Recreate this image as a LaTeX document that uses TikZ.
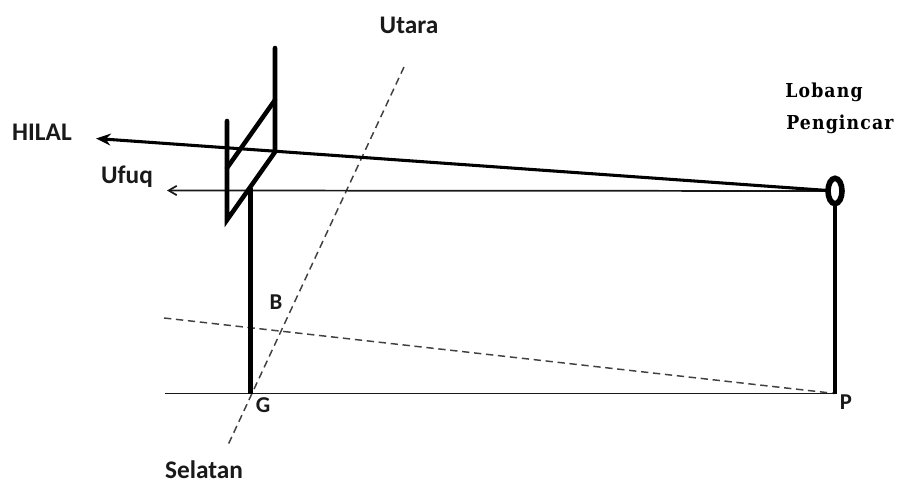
\documentclass[tikz,border=0pt]{standalone}
\usepackage{fontspec}
\setmainfont{Carlito}
\newfontfamily\serifb[LetterSpace=6]{DejaVu Serif Condensed}
\usetikzlibrary{arrows.meta,shapes.geometric}
\tikzset{
  thickline/.style={line width=3.4pt,line cap=round},
  midline/.style={line width=2.3pt},
  thinline/.style={line width=1.3pt,draw=black!90},
  dashline/.style={line width=1.1pt,draw=black!75,dash pattern=on 5.5pt off 3.5pt},
  lab/.style={inner sep=0pt,font=\bfseries\fontsize{19pt}{21pt}\selectfont,text=black!90},
  smalllab/.style={inner sep=0pt,font=\bfseries\fontsize{17pt}{19pt}\selectfont,text=black!90},
  serlab/.style={inner sep=0pt,anchor=west,font=\serifb\bfseries\fontsize{14.4pt}{16pt}\selectfont}
}
\begin{document}
\begin{tikzpicture}[x=0.75pt,y=-0.75pt]
\useasboundingbox (0,0) rectangle (898,484);
% points
\coordinate (topR) at (275,48);
\coordinate (midR) at (275,100);
\coordinate (lowR) at (275,152);
\coordinate (topL) at (227,121);
\coordinate (midL) at (227,168);
\coordinate (lowL) at (227,220);
\coordinate (gnoTop) at (250.5,188);
\coordinate (G) at (250.5,393.5);
\coordinate (P) at (835,393.5);
\coordinate (hole) at (835,191);
\coordinate (baseW) at (165,393.5);
\coordinate (hilalTip) at (96,138.5);
\coordinate (ufuqTip) at (167,190.5);
\coordinate (north) at (404,67);
\coordinate (south) at (228,445);
\coordinate (dashW) at (164,318);
% dashed
\draw[dashline] (north) -- (south);
\draw[dashline] (dashW) -- (P);
% base
\draw[thinline] (baseW) -- (P);
% ufuq
\draw[thinline,-{Straight Barb[length=6pt,width=7pt]}] (hole) -- (ufuqTip);
% hilal
\draw[midline,-{Stealth[length=11pt,width=9pt]}] (hole) -- (hilalTip);
% gnomon
\draw[thickline] (topR) -- (lowR) -- (lowL) -- (topL);
\draw[thickline] (midR) -- (midL);
\draw[thickline,line cap=butt] (gnoTop) -- (G);
% sight
\draw[thickline,line cap=butt] (P) -- (835,204);
\node[draw=black,line width=4.2pt,shape=ellipse,inner sep=0pt,fill=white,
  minimum width=10.5pt,minimum height=19pt] (holeNode) at (hole) {};
% labels
\node[lab] (tHilal) at (42,132) {HILAL};
\node[lab] (tUfuq) at (127,177) {Ufuq};
\node[lab] (tUtara) at (409,25) {Utara};
\node[lab] (tSelatan) at (204,470) {Selatan};
\node[smalllab] (tB) at (276,302) {B};
\node[smalllab] (tG) at (263,405) {G};
\node[smalllab] (tP) at (846,402) {P};
\node[serlab] (tLobang) at (785,92) {Lobang};
\node[serlab] (tPeng) at (786,124) {Pengincar};
\end{tikzpicture}
\end{document}
